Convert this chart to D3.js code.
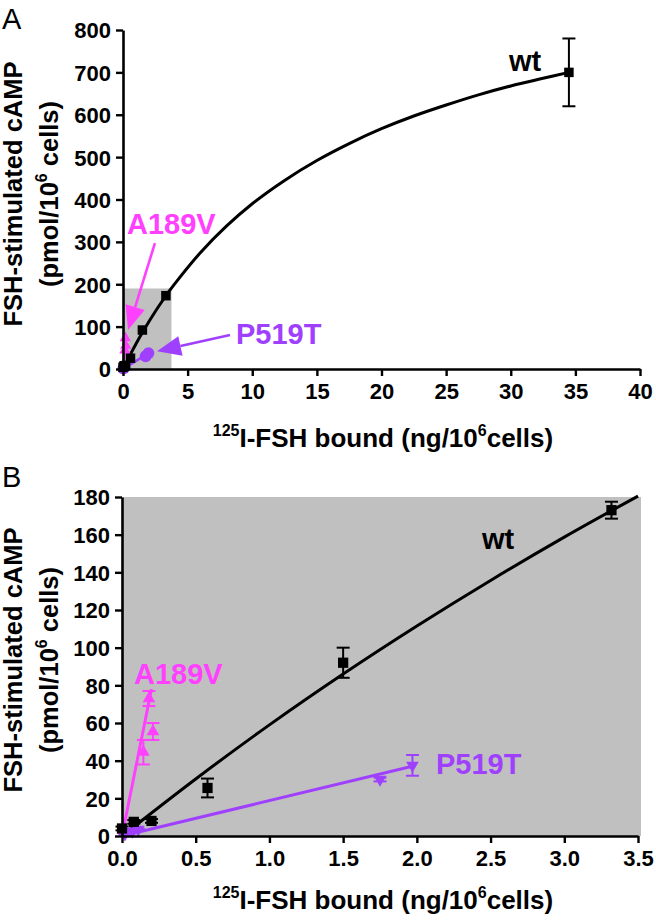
<!DOCTYPE html>
<html><head><meta charset="utf-8">
<script src="https://cdn.jsdelivr.net/npm/d3@7"></script>
<style>
body{margin:0;background:#fff}
svg{display:block}
text{font-family:"Liberation Sans",Arial,Helvetica,sans-serif}
</style>
</head><body>
<svg id="c" width="656" height="920"></svg>
<script>
// ---------------- data ----------------
const wtX   = [0.0, 0.08, 0.2, 0.58, 1.5, 3.32, 34.5];
const wtY   = [4, 7.5, 8, 25.5, 92, 173, 700];
const wtErr = [1, 1, 1, 5, 8, 4.5, 80];

const a189X   = [0.01, 0.145, 0.21, 0.183];
const a189Y   = [3, 44.5, 55.5, 73];
const a189Err = [1, 6.5, 4.5, 4];

const p519X   = [0.02, 0.07, 0.11, 1.75, 1.97];
const p519Y   = [1, 2.5, 3.5, 30, 37.5];
const p519Err = [0.5, 0.5, 0.5, 1, 5.5];

// fitted curves
const wtFitX = [0, 0.5, 1, 1.5, 2, 2.5, 3, 3.5, 4, 6, 8, 10, 12.5, 15, 17.5, 20, 22.5, 25, 27.5, 30, 32.5, 34.5];
const wtFitY = [0, 30.3, 59, 86, 111.5, 135.7, 158.7, 180.5, 201, 275, 337, 390, 445, 492, 532, 567, 597, 623, 647, 668, 686, 700];
const a189FitX = [0, 0.2];
const a189FitY = [0, 78];
const p519FitX = [0, 1.97];
const p519FitY = [0, 37];

// ticks
const xTicksA = [0, 5, 10, 15, 20, 25, 30, 35, 40];
const yTicksA = [0, 100, 200, 300, 400, 500, 600, 700, 800];
const xTicksB = [0, 0.5, 1.0, 1.5, 2.0, 2.5, 3.0, 3.5];
const yTicksB = [0, 20, 40, 60, 80, 100, 120, 140, 160, 180];

// zoom box shown in panel A
const boxX = [0, 3.75];
const boxY = [0, 190];

// ---------------- style ----------------
const BLACK = "#000", MAG = "#ff40ff", PUR = "#a040ff", GRAY = "#c0c0c0";
const svg = d3.select("#c");

const zip = (xs, ys, es) => xs.map((x, i) => ({x, y: ys[i], e: es ? es[i] : 0}));

function drawAxes(g, x, y, xt, yt, xfmt, yfmt) {
  const ax = g.append("g").attr("transform", `translate(0,${y.range()[0]})`)
    .call(d3.axisBottom(x).tickValues(xt).tickFormat(xfmt).tickSize(7).tickSizeOuter(0));
  const ay = g.append("g").attr("transform", `translate(${x.range()[0]},0)`)
    .call(d3.axisLeft(y).tickValues(yt).tickFormat(yfmt).tickSize(7).tickSizeOuter(0));
  [ax, ay].forEach(a => {
    a.select(".domain").attr("stroke", BLACK).attr("stroke-width", 2.6);
    a.selectAll(".tick line").attr("stroke", BLACK).attr("stroke-width", 2.4);
    a.selectAll(".tick text").attr("fill", BLACK).attr("font-size", 22).attr("font-weight", "bold");
  });
  ax.selectAll(".tick text").attr("y", 30).attr("dy", 0);
  ay.selectAll(".tick text").attr("x", -12).attr("dy", "0.36em");
}

function errorBars(g, x, y, data, color, cap) {
  const eb = g.append("g").attr("stroke", color).attr("stroke-width", 2).attr("fill", "none");
  data.forEach(d => {
    if (d.e <= 0) return;
    const cx = x(d.x), y1 = y(d.y + d.e), y0 = y(d.y - d.e);
    eb.append("line").attr("x1", cx).attr("x2", cx).attr("y1", y1).attr("y2", y0);
    eb.append("line").attr("x1", cx - cap/2).attr("x2", cx + cap/2).attr("y1", y1).attr("y2", y1);
    eb.append("line").attr("x1", cx - cap/2).attr("x2", cx + cap/2).attr("y1", y0).attr("y2", y0);
  });
}

function markers(g, x, y, data, type, size, color, rot) {
  g.append("g").selectAll("path").data(data).join("path")
    .attr("d", d3.symbol().type(type).size(size))
    .attr("transform", d => `translate(${x(d.x)},${y(d.y)})` + (rot ? ` rotate(${rot})` : ""))
    .attr("fill", color);
}

function fitLine(g, x, y, xs, ys, color, w) {
  g.append("path").datum(xs.map((v, i) => [v, ys[i]]))
    .attr("d", d3.line().x(d => x(d[0])).y(d => y(d[1])).curve(d3.curveCatmullRom))
    .attr("fill", "none").attr("stroke", color).attr("stroke-width", w);
}

function yTitle(cx1, cx2, cy) {
  svg.append("text").attr("transform", `translate(${cx1},${cy}) rotate(-90)`)
    .attr("text-anchor", "middle").attr("font-size", 25.5).attr("font-weight", "bold").attr("fill", BLACK)
    .text("FSH-stimulated cAMP");
  const t2 = svg.append("text").attr("transform", `translate(${cx2},${cy}) rotate(-90)`)
    .attr("text-anchor", "middle").attr("font-size", 25.5).attr("font-weight", "bold").attr("fill", BLACK);
  t2.append("tspan").text("(pmol/10");
  t2.append("tspan").attr("font-size", 16).attr("dy", -11).text("6");
  t2.append("tspan").attr("dy", 11).text(" cells)");
}

function xTitle(cx, by) {
  const t = svg.append("text").attr("x", cx).attr("y", by).attr("text-anchor", "middle")
    .attr("font-size", 26).attr("font-weight", "bold").attr("fill", BLACK);
  t.append("tspan").attr("font-size", 16).attr("dy", -11).text("125");
  t.append("tspan").attr("dy", 11).text("I-FSH bound (ng/10");
  t.append("tspan").attr("font-size", 16).attr("dy", -11).text("6");
  t.append("tspan").attr("dy", 11).text("cells)");
}

function label(txt, x, y, color, anchor) {
  svg.append("text").attr("x", x).attr("y", y).attr("text-anchor", anchor || "start")
    .attr("font-size", 29).attr("font-weight", "bold").attr("fill", color).text(txt);
}

function arrow(x1, y1, x2, y2, color) {
  const dx = x2 - x1, dy = y2 - y1, L = Math.hypot(dx, dy), ux = dx / L, uy = dy / L;
  const hl = 24, hw = 10;
  const bx = x2 - ux * hl, by = y2 - uy * hl;
  svg.append("line").attr("x1", x1).attr("y1", y1).attr("x2", bx).attr("y2", by)
    .attr("stroke", color).attr("stroke-width", 2.6);
  svg.append("path").attr("d", `M${x2},${y2}L${bx - uy*hw},${by + ux*hw}L${bx + uy*hw},${by - ux*hw}Z`)
    .attr("fill", color);
}

// ---------------- panel A ----------------
const xA = d3.scaleLinear([0, 40], [123, 640]);
const yA = d3.scaleLinear([0, 800], [369, 30]);
const gA = svg.append("g");
gA.append("rect").attr("x", xA(boxX[0])).attr("y", yA(boxY[1]))
  .attr("width", xA(boxX[1]) - xA(boxX[0])).attr("height", yA(boxY[0]) - yA(boxY[1])).attr("fill", GRAY);
fitLine(gA, xA, yA, wtFitX, wtFitY, BLACK, 3);
fitLine(gA, xA, yA, a189FitX, a189FitY, MAG, 2.5);
fitLine(gA, xA, yA, p519FitX, p519FitY, PUR, 2.5);
errorBars(gA, xA, yA, zip(wtX, wtY, wtErr).filter(d => d.e > 20), BLACK, 13);
markers(gA, xA, yA, zip(a189X, a189Y), d3.symbolTriangle, 55, MAG);
markers(gA, xA, yA, zip(p519X, p519Y), d3.symbolCircle, 110, PUR);
markers(gA, xA, yA, zip(wtX, wtY), d3.symbolSquare, 90, BLACK);
drawAxes(gA, xA, yA, xTicksA, yTicksA, d3.format("d"), d3.format("d"));

// ---------------- panel B ----------------
const xB = d3.scaleLinear([0, 3.5], [122, 638]);
const yB = d3.scaleLinear([0, 180], [836, 497]);
const gB = svg.append("g");
gB.append("rect").attr("x", xB(0)).attr("y", yB(180))
  .attr("width", xB(3.5) - xB(0) + 3).attr("height", yB(0) - yB(180)).attr("fill", GRAY);
const fB = wtFitX.map((v, i) => i).filter(i => wtFitX[i] <= 3.5);
fitLine(gB, xB, yB, fB.map(i => wtFitX[i]), fB.map(i => wtFitY[i]), BLACK, 3);
fitLine(gB, xB, yB, a189FitX, a189FitY, MAG, 3);
fitLine(gB, xB, yB, p519FitX, p519FitY, PUR, 3);
const wtB = zip(wtX, wtY, wtErr).filter(d => d.x <= 3.5);
errorBars(gB, xB, yB, wtB, BLACK, 13);
errorBars(gB, xB, yB, zip(a189X, a189Y, a189Err), MAG, 13);
errorBars(gB, xB, yB, zip(p519X, p519Y, p519Err), PUR, 13);
markers(gB, xB, yB, zip(a189X, a189Y), d3.symbolTriangle, 70, MAG);
markers(gB, xB, yB, zip(p519X, p519Y), d3.symbolTriangle, 70, PUR, 180);
markers(gB, xB, yB, wtB, d3.symbolSquare, 105, BLACK);
drawAxes(gB, xB, yB, xTicksB, yTicksB, d3.format(".1f"), d3.format("d"));

// ---------------- texts ----------------
svg.append("text").attr("x", 2).attr("y", 29).attr("font-size", 29).attr("fill", BLACK).text("A");
svg.append("text").attr("x", 2).attr("y", 487).attr("font-size", 29).attr("fill", BLACK).text("B");
yTitle(22, 58, 194);
yTitle(22, 58, 660);
xTitle(383, 447);
xTitle(383, 909);

label("wt", 509, 71, BLACK);
label("A189V", 127, 234, MAG);
label("P519T", 236, 344, PUR);
arrow(xA(2.47), yA(297), xA(0.39), yA(92), MAG);
arrow(xA(8.28), yA(80), xA(2.63), yA(42), PUR);

label("wt", 482, 549, BLACK);
label("A189V", 134, 684, MAG);
label("P519T", 436, 774, PUR);
</script>
</body></html>
